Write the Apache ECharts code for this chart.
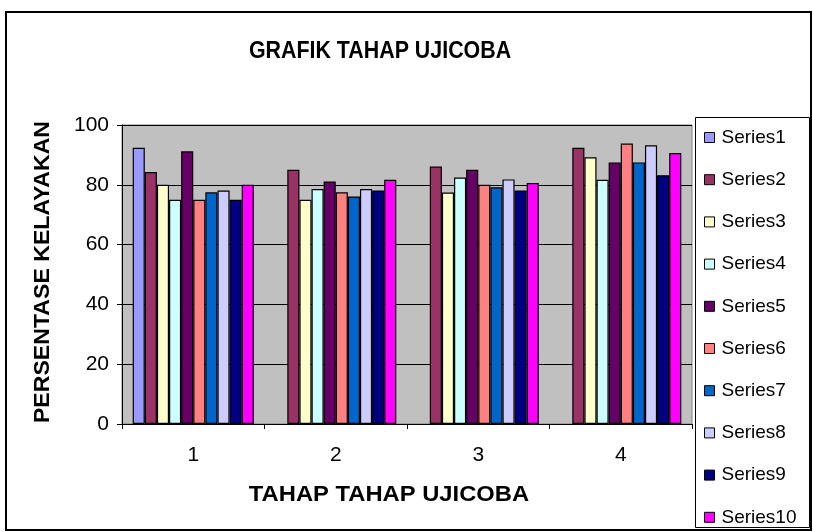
<!DOCTYPE html>
<html>
<head>
<meta charset="utf-8">
<script src="https://cdn.jsdelivr.net/npm/echarts@6/dist/echarts.min.js"></script>
<style>
html,body{margin:0;padding:0;background:#fff;}
#chart{width:813px;height:532px;}
</style>
</head>
<body>
<div id="chart"></div>
<script>
var categories = ['1', '2', '3', '4'];
var seriesNames = ['Series1','Series2','Series3','Series4','Series5','Series6','Series7','Series8','Series9','Series10'];
var series1 = [92.4, null, null, null];
var series2 = [84.3, 85.0, 86.1, 92.4];
var series3 = [80.0, 75.0, 77.4, 89.2];
var series4 = [75.0, 78.6, 82.4, 81.7];
var series5 = [91.2, 81.1, 85.0, 87.5];
var series6 = [75.0, 77.5, 80.0, 93.8];
var series7 = [77.5, 76.1, 79.2, 87.5];
var series8 = [78.1, 78.6, 81.8, 93.2];
var series9 = [75.0, 78.1, 78.1, 83.2];
var series10 = [80.0, 81.7, 80.6, 90.6];
var yTicks = [0, 20, 40, 60, 80, 100];
var titleText = 'GRAFIK TAHAP UJICOBA';
var xAxisTitle = 'TAHAP TAHAP UJICOBA';
var yAxisTitle = 'PERSENTASE KELAYAKAN';

var allValues = [series1, series2, series3, series4, series5, series6, series7, series8, series9, series10];
var colors = ['#9999FF','#993366','#FFFFCC','#CCFFFF','#660066','#FF8080','#0066CC','#CCCCFF','#000080','#FF00FF'];

var font = 'Liberation Sans, Arial, sans-serif';
var chart = echarts.init(document.getElementById('chart'), null, {renderer: 'canvas'});

var series = allValues.map(function (vals, i) {
  return {
    name: seriesNames[i],
    type: 'bar',
    data: vals,
    barGap: '0%',
    barCategoryGap: '15%',
    itemStyle: {color: colors[i], borderColor: '#000', borderWidth: 1.2},
    emphasis: {disabled: true},
    animation: false
  };
});

chart.setOption({
  animation: false,
  color: colors,
  graphic: [
    {type: 'rect', shape: {x: 6, y: 12, width: 805, height: 518}, style: {fill: 'none', stroke: '#000', lineWidth: 2}, silent: true, z: 100},
    {type: 'rect', shape: {x: 695.5, y: 117.5, width: 114, height: 410}, style: {fill: '#fff', stroke: '#000', lineWidth: 1}, silent: true, z: 0},
    {type: 'text', x: 380, y: 52, scaleX: 0.93, silent: true,
      style: {text: titleText, fontFamily: font, fontSize: 23, fontWeight: 'bold', fill: '#000', align: 'center', verticalAlign: 'middle'}},
    {type: 'text', x: 389, y: 495, scaleX: 1.08, silent: true,
      style: {text: xAxisTitle, fontFamily: font, fontSize: 22, fontWeight: 'bold', fill: '#000', align: 'center', verticalAlign: 'middle'}},
    {type: 'text', x: 43, y: 272, rotation: Math.PI / 2, scaleX: 1.05, silent: true,
      style: {text: yAxisTitle, fontFamily: font, fontSize: 22, fontWeight: 'bold', fill: '#000', align: 'center', verticalAlign: 'middle'}}
  ],
  legend: {
    orient: 'vertical',
    left: 699,
    top: 122,
    height: 420,
    itemWidth: 10,
    itemHeight: 10,
    itemGap: 21.2,
    icon: 'rect',
    itemStyle: {borderColor: '#000', borderWidth: 1},
    textStyle: {fontFamily: font, fontSize: 19, color: '#000', lineHeight: 21, padding: [0, 0, 0, 2]},
    data: seriesNames
  },
  grid: {left: 122, top: 125, width: 570, height: 299, containLabel: false, show: true, backgroundColor: '#C0C0C0', borderColor: '#808080', borderWidth: 1},
  xAxis: {
    type: 'category',
    data: categories,
    axisLine: {lineStyle: {color: '#000', width: 1}},
    axisTick: {show: true, alignWithLabel: false, length: 5, lineStyle: {color: '#000'}},
    axisLabel: {fontFamily: font, fontSize: 21, color: '#000', margin: 21}
  },
  yAxis: {
    type: 'value',
    min: yTicks[0],
    max: yTicks[yTicks.length - 1],
    interval: 20,
    axisLine: {show: true, lineStyle: {color: '#000', width: 1}},
    axisTick: {show: true, length: 5, lineStyle: {color: '#000'}},
    axisLabel: {fontFamily: font, fontSize: 21, color: '#000', margin: 13},
    splitLine: {show: true, lineStyle: {color: '#000', width: 1}}
  },
  series: series
});
</script>
</body>
</html>
